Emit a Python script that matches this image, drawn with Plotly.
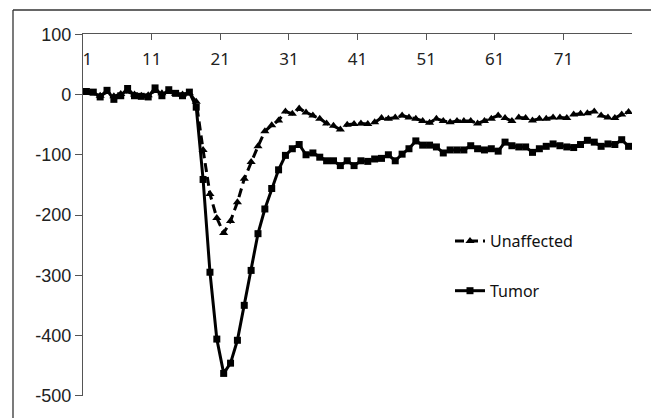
import plotly.graph_objects as go

# category index 1..80
categories = list(range(1, 81))

unaffected = [3, 2, -2, 4, -3, 1, 5, 0, -2, -1, 6, 2, 4, 1, 0, 2,
              -12, -92, -165, -205, -230, -210, -179, -140, -112, -86,
              -61, -51, -43, -28, -32, -23, -30, -35, -40, -48, -52, -58,
              -50, -49, -48, -49, -46, -39, -40, -38, -35, -38, -40, -44,
              -47, -40, -44, -46, -44, -44, -44, -48, -44, -40, -35, -39,
              -44, -38, -39, -43, -40, -40, -38, -38, -39, -33, -32, -31,
              -28, -35, -38, -39, -33, -29]

tumor = [5, 4, -4, 7, -8, -2, 10, -2, -3, -4, 11, -2, 8, 2, -2, 4,
         -21, -141, -295, -406, -463, -446, -408, -350, -292, -231,
         -190, -156, -125, -101, -90, -83, -100, -97, -104, -110, -110,
         -118, -110, -118, -110, -111, -107, -106, -100, -110, -99, -90,
         -77, -84, -84, -87, -97, -92, -92, -92, -85, -90, -92, -90, -94,
         -79, -85, -87, -87, -96, -90, -86, -82, -85, -87, -88, -83, -76,
         -79, -86, -82, -83, -75, -86]

x_tick_labels = ["\u20021", "11", "21", "31", "41", "51", "61", "71", ""]
x_tick_positions = [0.5, 10.5, 20.5, 30.5, 40.5, 50.5, 60.5, 70.5, 80.5]
y_tick_values = [100, 0, -100, -200, -300, -400, -500]
y_tick_labels = ["100", "0", "-100", "-200", "-300", "-400", "-500"]

fig = go.Figure()
fig.add_trace(go.Scatter(
    x=categories, y=unaffected, name="Unaffected", mode="lines+markers",
    legendgroup="a",
    line=dict(color="black", width=3, dash="9px,5px"),
    marker=dict(symbol="triangle-up", size=8, color="black"),
))
fig.add_trace(go.Scatter(
    x=categories, y=tumor, name="Tumor", mode="lines+markers",
    legendgroup="b",
    line=dict(color="black", width=3),
    marker=dict(symbol="square", size=7, color="black"),
))

L, R, T, B = 83, 19, 34, 22
W, H = 651, 418
pw, ph = W - L - R, H - T - B

def px(x):
    return (x - L) / pw

def py(y):
    return (H - B - y) / ph

axis_col = "#555555"
fig.update_layout(
    width=W, height=H,
    margin=dict(l=L, r=R, t=T, b=B, pad=0),
    paper_bgcolor="white", plot_bgcolor="white",
    showlegend=True,
    legend=dict(x=px(450), y=py(224), xanchor="left", yanchor="top",
                bgcolor="rgba(0,0,0,0)", tracegroupgap=26,
                font=dict(family="Noto Sans", size=16, color="#111"),
                itemwidth=30),
    xaxis=dict(
        range=[0.5, 80.5], side="top", showgrid=False, zeroline=False,
        showline=True, linecolor=axis_col, linewidth=1.3,
        tickmode="array", tickvals=x_tick_positions, ticktext=x_tick_labels,
        ticks="inside", ticklen=6, tickcolor=axis_col, tickwidth=1.3,
        ticklabelposition="inside", ticklabeloverflow="allow",
        ticklabelstandoff=13,
        tickfont=dict(family="Noto Sans", size=17, color="#222"),
    ),
    yaxis=dict(
        range=[-500.5, 100.5], showgrid=False, zeroline=False,
        showline=True, linecolor=axis_col, linewidth=1.3,
        tickmode="array", tickvals=y_tick_values, ticktext=y_tick_labels,
        ticks="outside", ticklen=7, tickcolor=axis_col, tickwidth=1.3,
        tickfont=dict(family="Liberation Sans", size=18, color="#222"),
    ),
    shapes=[
        dict(type="line", xref="paper", yref="paper",
             x0=px(13), x1=px(652), y0=py(10), y1=py(10),
             line=dict(color="#333", width=1.3)),
        dict(type="line", xref="paper", yref="paper",
             x0=px(13), x1=px(13), y0=py(10), y1=py(420),
             line=dict(color="#333", width=1.3)),
    ],
)

fig.write_html("out.html")
